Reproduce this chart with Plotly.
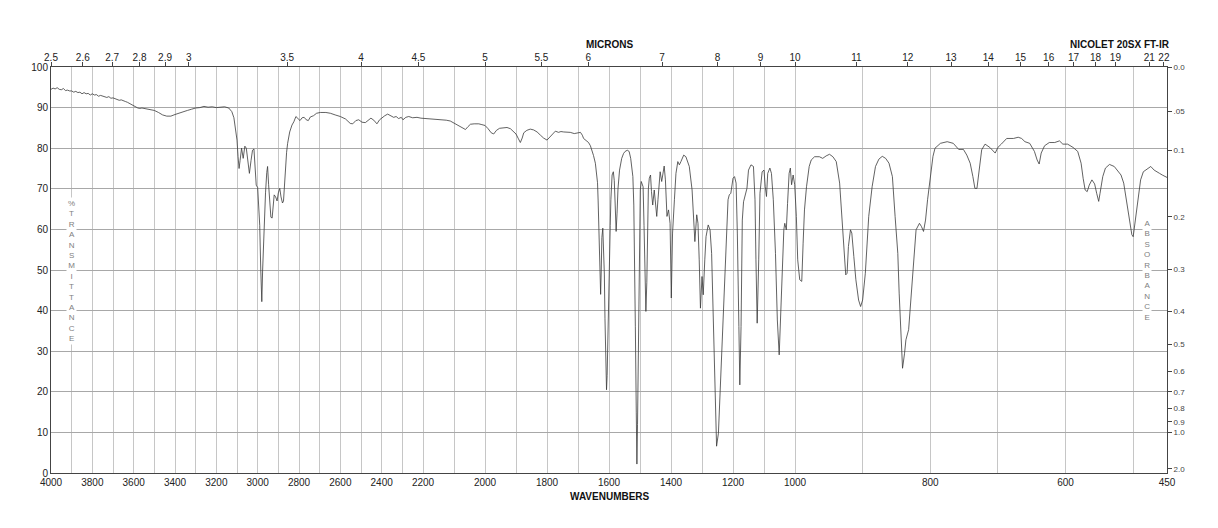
import numpy as np
import plotly.graph_objects as go

# ---------------- data ----------------
# Region 4000-2000 cm-1
wn_hi = [4000, 3990, 3980, 3970, 3960, 3950, 3940, 3930, 3920, 3910, 3900, 3890, 3880, 3870, 3860,
         3850, 3840, 3830, 3820, 3810, 3800, 3790, 3780, 3770, 3760, 3750, 3740, 3730, 3720, 3710,
         3700, 3690, 3680, 3670, 3660, 3650, 3640, 3630, 3620, 3610, 3600, 3590, 3580, 3570, 3560,
         3550, 3540, 3520, 3500, 3480, 3460, 3440, 3420, 3400, 3380, 3360, 3340, 3320, 3300, 3280,
         3260, 3240, 3220, 3200, 3180, 3160, 3140, 3125, 3115, 3108, 3100, 3095, 3090, 3085, 3078,
         3070, 3062, 3055, 3048, 3040, 3032, 3025, 3018, 3012, 3007, 3000, 2995, 2990, 2985, 2980,
         2976, 2970, 2962, 2956, 2952, 2947, 2942, 2936, 2930, 2925, 2920, 2913, 2906, 2900, 2893,
         2887, 2880, 2875, 2870, 2866, 2860, 2855, 2845, 2834, 2825, 2815, 2805, 2795, 2785, 2775,
         2765, 2755, 2745, 2730, 2715, 2697, 2670, 2648, 2625, 2600, 2575, 2552, 2540, 2525, 2511,
         2495, 2479, 2465, 2452, 2438, 2423, 2410, 2400, 2385, 2371, 2355, 2342, 2330, 2318, 2305,
         2297, 2283, 2269, 2250, 2229, 2210, 2187, 2165, 2144, 2125, 2112, 2095, 2085, 2073, 2063,
         2055, 2047, 2035, 2020, 2010]
t_hi = [94.5, 94.8, 94.6, 94.9, 94.5, 94.4, 94.7, 94.2, 94.3, 94.1, 94.1, 93.8, 94.0, 93.7, 93.8,
        93.4, 93.7, 93.4, 93.5, 93.1, 93.4, 93.1, 93.2, 92.8, 93.0, 92.8, 92.7, 92.5, 92.7, 92.3,
        92.4, 92.2, 92.0, 91.8, 91.9, 91.6, 91.5, 91.3, 91.0, 90.8, 90.6, 90.2, 89.9, 89.8, 89.9,
        89.8, 89.7, 89.6, 89.3, 88.8, 88.2, 87.9, 87.9, 88.3, 88.7, 89.0, 89.3, 89.6, 89.9, 90.0,
        90.3, 90.1, 90.2, 90.0, 90.1, 90.2, 89.9, 89.0, 87.5, 85.0, 82.0, 78.0, 75.0, 77.0, 80.0,
        77.5, 80.5, 80.0, 77.0, 73.8, 77.0, 79.5, 79.8, 75.0, 70.9, 70.3, 66.0, 61.0, 50.0, 42.2,
        50.0, 60.7, 69.0, 74.0, 75.5, 71.0, 67.0, 63.0, 62.8, 66.0, 68.5, 68.0, 67.0, 69.0, 70.1,
        68.0, 66.5, 67.0, 72.0, 76.5, 79.0, 81.2, 84.0, 85.7, 86.5, 87.8, 87.4, 86.8, 87.5, 87.6,
        87.0, 86.8, 87.7, 88.0, 88.6, 88.8, 88.8, 88.6, 88.2, 87.8, 87.2, 86.1, 86.0, 86.8, 87.0,
        86.4, 86.3, 87.0, 87.4, 86.9, 86.0, 87.0, 87.5, 88.0, 88.4, 88.0, 87.6, 87.8, 87.3, 87.6,
        87.0, 87.6, 87.8, 87.5, 87.6, 87.4, 87.3, 87.1, 87.0, 86.9, 86.7, 86.0, 85.5, 85.0, 84.6,
        85.3, 85.9, 86.0, 86.0, 85.8]

# Region 2000-1000 cm-1
wn_mid = [2000, 1990, 1980, 1972, 1963, 1953, 1940, 1929, 1918, 1908, 1900, 1892, 1886, 1880, 1875,
          1865, 1854, 1843, 1832, 1821, 1811, 1800, 1790, 1782, 1773, 1763, 1755, 1746, 1735, 1725,
          1712, 1698, 1692, 1686, 1682, 1674, 1666, 1660, 1655, 1650, 1644, 1640, 1637, 1635, 1633,
          1631, 1629, 1627, 1625, 1623, 1620, 1618, 1615, 1613, 1611, 1608, 1606, 1603, 1600, 1598,
          1596, 1594, 1590, 1586, 1583, 1580, 1577, 1574, 1571, 1566, 1559, 1553, 1548, 1541, 1535,
          1530, 1526, 1523, 1520, 1518, 1515, 1512, 1510, 1508, 1506, 1503, 1500, 1499, 1496, 1493,
          1490, 1487, 1484, 1481, 1478, 1476, 1473, 1470, 1466, 1463, 1459, 1454, 1446, 1442, 1435,
          1430, 1427, 1422, 1418, 1413, 1408, 1403, 1399, 1395, 1389, 1384, 1378, 1373, 1368, 1359,
          1352, 1341, 1332, 1327, 1323, 1317, 1313, 1309, 1305, 1300, 1296, 1291, 1287, 1280, 1274,
          1269, 1263, 1258, 1253, 1247, 1242, 1237, 1231, 1226, 1220, 1216, 1212, 1207, 1200, 1195,
          1190, 1186, 1181, 1178, 1174, 1170, 1166, 1160, 1155, 1150, 1142, 1134, 1129, 1126, 1122,
          1117, 1113, 1106, 1100, 1096, 1092, 1088, 1081, 1076, 1070, 1063, 1057, 1051, 1046, 1040,
          1036, 1033, 1028, 1024, 1019, 1015, 1011, 1006, 1001]
t_mid = [85.6, 84.8, 83.8, 83.5, 84.4, 84.9, 85.0, 85.1, 84.8, 84.2, 83.5, 82.3, 81.4, 82.5, 83.8,
         84.4, 84.7, 84.5, 84.0, 83.2, 82.5, 82.0, 82.8, 83.6, 84.2, 83.9, 84.1, 84.0, 84.0, 83.9,
         83.6, 83.7, 83.9, 83.2, 82.4, 81.9, 81.4, 80.6, 79.6, 78.2, 76.3, 74.0, 71.5, 67.0, 61.0,
         54.0, 47.0, 44.0, 50.0, 58.0, 60.3, 57.0, 49.0, 38.0, 28.0, 20.5, 24.0, 33.0, 45.0, 52.0,
         61.0, 67.3, 73.4, 74.2, 72.0, 66.0, 59.5, 64.0, 70.0, 74.6, 77.5, 78.7, 79.2, 79.5, 79.2,
         77.5, 75.5, 73.0, 66.0, 57.0, 36.0, 15.0, 2.2, 12.0, 27.0, 52.0, 66.0, 69.7, 71.8, 71.3,
         70.5, 61.0, 51.0, 39.8, 47.0, 57.0, 70.0, 72.6, 73.4, 69.3, 66.0, 69.7, 63.2, 67.3, 74.2,
         71.8, 73.4, 75.6, 72.2, 63.2, 64.8, 61.5, 43.1, 59.1, 67.3, 73.8, 76.7, 75.9, 76.7, 78.3,
         77.9, 75.5, 69.7, 63.2, 57.0, 63.6, 61.5, 52.5, 40.6, 48.4, 43.9, 52.5, 58.2, 61.1, 59.9,
         54.1, 36.1, 15.6, 6.6, 9.8, 19.7, 29.5, 40.2, 50.9, 59.9, 67.3, 68.5, 68.9, 72.6, 73.0,
         71.4, 59.1, 36.1, 21.7, 36.1, 62.3, 66.8, 68.5, 70.1, 74.6, 75.9, 75.5, 67.3, 52.5, 36.9,
         52.5, 68.9, 74.2, 74.6, 70.5, 68.1, 73.8, 75.1, 73.8, 67.3, 54.1, 37.7, 29.1, 39.4, 52.5,
         59.9, 61.5, 59.9, 66.4, 73.8, 75.1, 71.0, 73.4, 71.0]

# Region 1000-450 cm-1
wn_lo = [998, 996, 993, 990, 988, 986, 983, 979, 976, 971, 964, 959, 954, 949, 944,
         939, 934, 931, 928, 925, 923, 921, 918, 916, 913, 910, 906, 903, 900, 896,
         891, 886, 881, 876, 871, 866, 861, 856, 852, 848, 846, 844, 841, 838, 836,
         832, 829, 825, 821, 816, 813, 810, 807, 804, 800, 796, 793, 785, 775, 766,
         758, 751, 746, 741, 737, 734, 731, 728, 724, 719, 712, 704, 700, 695, 687,
         677, 670, 665, 660, 653, 646, 642, 639, 636, 631, 624, 616, 609, 604, 597,
         589, 582, 577, 574, 571, 568, 565, 561, 557, 554, 551, 549, 545, 541, 535,
         528, 523, 518, 514, 511, 507, 504, 502, 500, 498, 495, 492, 489, 485, 481,
         477, 474, 469, 465, 461, 457, 454, 450]
t_lo = [63.2, 52.5, 47.6, 47.2, 56.6, 64.8, 70.5, 75.5, 77.1, 77.9, 77.9, 77.5, 78.1, 78.5, 77.9,
        76.7, 71.4, 63.2, 54.1, 48.8, 49.2, 55.8, 59.9, 59.1, 53.3, 47.6, 42.6, 41.0, 42.6, 49.2,
        63.2, 70.5, 75.5, 77.3, 78.0, 77.5, 76.3, 73.0, 63.2, 54.1, 44.3, 36.9, 25.8, 29.5, 32.8,
        35.3, 41.8, 52.5, 59.9, 61.5, 60.7, 59.5, 62.3, 67.3, 73.4, 78.0, 80.0, 81.2, 81.6, 81.2,
        79.7, 79.7, 78.3, 76.3, 73.0, 70.1, 70.1, 74.6, 79.6, 81.0, 80.2, 78.8, 80.2, 81.0, 82.4,
        82.4, 82.7, 82.4, 81.6, 81.2, 79.2, 77.1, 76.1, 78.8, 80.6, 81.4, 81.4, 81.8, 81.0, 81.0,
        80.2, 79.2, 76.3, 72.6, 69.7, 69.3, 70.9, 72.2, 71.2, 68.9, 66.9, 68.9, 73.0, 75.1, 76.0,
        75.5, 74.4, 73.4, 71.4, 68.1, 64.8, 60.7, 58.7, 58.2, 60.7, 64.8, 68.9, 72.2, 74.2, 74.6,
        75.1, 75.5, 74.6, 74.3, 73.8, 73.4, 73.1, 72.8]

# axis labels
wn_labels = [4000, 3800, 3600, 3400, 3200, 3000, 2800, 2600, 2400, 2200, 2000,
             1800, 1600, 1400, 1200, 1000, 800, 600, 450]
micron_labels = [2.5, 2.6, 2.7, 2.8, 2.9, 3, 3.5, 4, 4.5, 5, 5.5, 6, 7, 8, 9, 10,
                 11, 12, 13, 14, 15, 16, 17, 18, 19, 21, 22]
absorb_labels = ["0.0", ".05", "0.1", "0.2", "0.3", "0.4", "0.5", "0.6", "0.7",
                 "0.8", "0.9", "1.0", "2.0"]
absorb_values = [0.0, 0.05, 0.1, 0.2, 0.3, 0.4, 0.5, 0.6, 0.7, 0.8, 0.9, 1.0, 2.0]


# ---------------- piecewise wavenumber scale of the chart paper ----------------
def xpos(wn):
    return np.interp(np.asarray(wn, dtype=float), [450, 1000, 2200, 4000], [3.0, 2.0, 1.0, 0.0])


wn = np.array(wn_hi + wn_mid + wn_lo, dtype=float)
tr = np.array(t_hi + t_mid + t_lo, dtype=float)

FONT = "Liberation Sans, Arial, Helvetica, sans-serif"
AXC = "#444444"
L, R, T, B, W, H = 51, 51, 67, 55, 1218, 528
PW, PH = W - L - R, H - T - B


def px(xp):
    return (xp - L) / PW


def py(yp):
    return (H - B - yp) / PH


fig = go.Figure()
fig.add_trace(go.Scatter(x=xpos(wn), y=tr, mode="lines",
                         line=dict(color="#3a3a3a", width=0.8),
                         showlegend=False, hoverinfo="skip"))
# helper trace so the top/right axes are drawn
fig.add_trace(go.Scatter(x=xpos(wn), y=tr, mode="lines", xaxis="x2", yaxis="y2",
                         line=dict(color="rgba(0,0,0,0)", width=0),
                         showlegend=False, hoverinfo="skip"))

grid_wn = list(range(4000, 449, -100)) + [450]
grid_text = [str(w) if w in wn_labels else "" for w in grid_wn]

fig.update_layout(
    width=W, height=H,
    margin=dict(l=L, r=R, t=T, b=B),
    paper_bgcolor="white", plot_bgcolor="white",
    font=dict(family=FONT, size=10, color="#222"),
    xaxis=dict(range=[0, 3], tickmode="array", tickvals=xpos(grid_wn).tolist(), ticktext=grid_text,
               showgrid=True, gridcolor="#c6c6c6", gridwidth=1, zeroline=False,
               showline=True, linecolor=AXC, linewidth=1, ticks="",
               tickfont=dict(size=10, color="#222")),
    xaxis2=dict(range=[0, 3], overlaying="x", side="top", anchor="y",
                tickmode="array", tickvals=xpos([10000.0 / m for m in micron_labels]).tolist(),
                ticktext=[str(m) for m in micron_labels],
                showgrid=False, zeroline=False, showline=True, linecolor=AXC, linewidth=1,
                ticks="outside", ticklen=4, tickcolor=AXC, ticklabelstandoff=-3,
                tickfont=dict(size=10, color="#222")),
    yaxis=dict(range=[0, 100], tickmode="array", tickvals=list(range(0, 101, 10)),
               showgrid=True, gridcolor="#a8a8a8", gridwidth=1, zeroline=False,
               showline=True, linecolor=AXC, linewidth=1, ticks="",
               tickfont=dict(size=10, color="#222")),
    yaxis2=dict(range=[0, 100], overlaying="y", side="right", anchor="x",
                tickmode="array", tickvals=[100.0 * 10 ** (-a) for a in absorb_values],
                ticktext=absorb_labels, showgrid=False, zeroline=False,
                showline=True, linecolor=AXC, linewidth=1,
                ticks="outside", ticklen=4, tickcolor=AXC,
                tickfont=dict(size=8, color="#444")),
)

common = dict(xref="paper", yref="paper", showarrow=False, xanchor="center", yanchor="middle")
fig.add_annotation(text="<b>MICRONS</b>", x=px(610), y=py(44.5),
                   font=dict(size=10, color="#111"), **common)
fig.add_annotation(text="<b>NICOLET 20SX FT-IR</b>", x=px(1120), y=py(44.5),
                   font=dict(size=10, color="#111"), **common)
fig.add_annotation(text="<b>WAVENUMBERS</b>", x=px(610), y=py(496),
                   font=dict(size=10, color="#111"), **common)
fig.add_annotation(text="<br>".join(list("%TRANSMITTANCE")), x=px(71), y=py(270.5),
                   bgcolor="white", borderpad=1, font=dict(size=8, color="#808080"), **common)
fig.add_annotation(text="<br>".join(list("ABSORBANCE")), x=px(1147), y=py(270.5),
                   bgcolor="white", borderpad=1, font=dict(size=8, color="#808080"), **common)

fig.write_html("out.html")
